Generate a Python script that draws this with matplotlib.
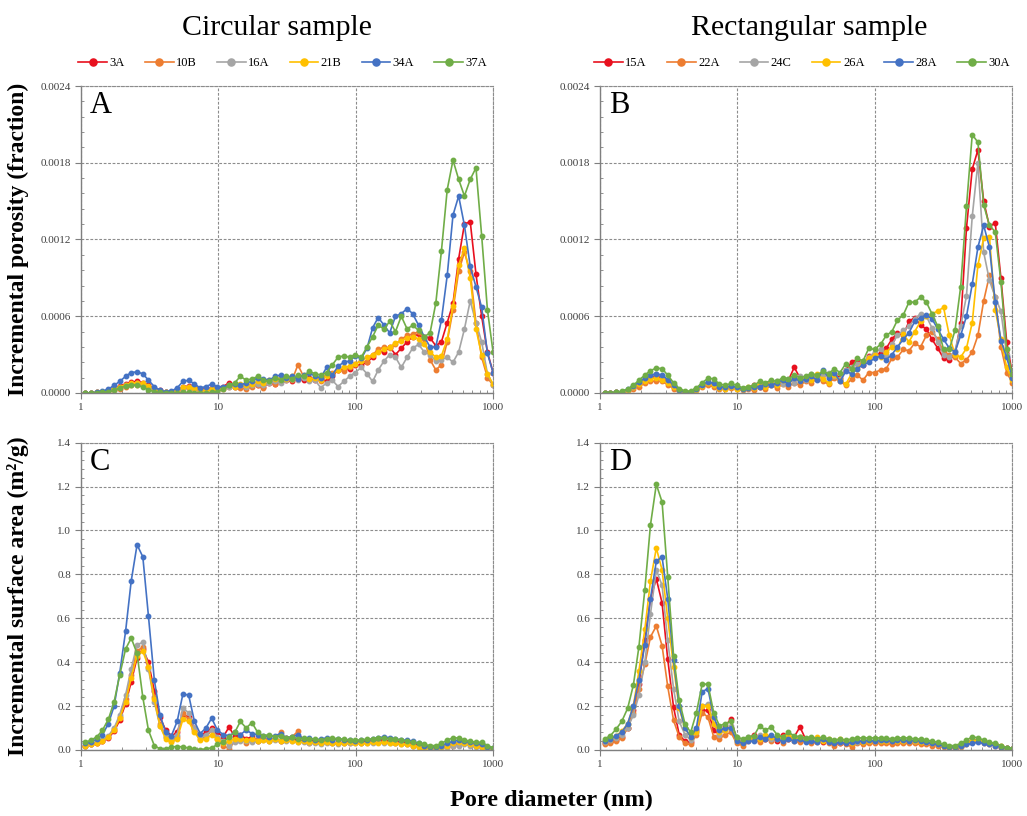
import numpy as np
import matplotlib
matplotlib.use("Agg")
import matplotlib.pyplot as plt
from matplotlib.ticker import MultipleLocator, FormatStrFormatter, LogLocator, NullFormatter, FixedLocator

plt.rcParams['font.family'] = ['Liberation Serif', 'DejaVu Serif']

# pore diameter grid (nm), shared by every series
x_nm = [1.08, 1.19, 1.31, 1.44, 1.59, 1.75, 1.92, 2.12, 2.33, 2.57, 2.83, 3.11,
        3.43, 3.77, 4.15, 4.57, 5.03, 5.54, 6.10, 6.72, 7.40, 8.14, 8.97, 9.87,
        10.9, 12.0, 13.2, 14.5, 16.0, 17.6, 19.4, 21.3, 23.5, 25.9, 28.5, 31.3,
        34.5, 38.0, 41.8, 46.1, 50.7, 55.8, 61.5, 67.7, 74.5, 82.0, 90.3, 99.5,
        110, 121, 133, 146, 161, 177, 195, 215, 237, 260, 287, 316,
        348, 383, 421, 464, 511, 562, 619, 682, 751, 826, 910, 1000]

circ_labels = ['3A', '10B', '16A', '21B', '34A', '37A']
rect_labels = ['15A', '22A', '24C', '26A', '28A', '30A']
colors = ['#E8101E', '#ED7D31', '#A5A5A5', '#FFC000', '#4472C4', '#70AD47']

# incremental porosity, in units of 1e-4 (fraction)
por_3A = [0.0, 0.0, 0.05, 0.1, 0.2, 0.35, 0.55, 0.7, 0.85, 0.9, 0.8, 0.6,
          0.35, 0.2, 0.1, 0.1, 0.2, 0.45, 0.55, 0.45, 0.3, 0.3, 0.4, 0.3,
          0.5, 0.8, 0.5, 0.6, 0.5, 0.7, 0.6, 0.5, 0.8, 0.7, 0.9, 1.0,
          0.9, 1.1, 1.0, 1.2, 1.0, 1.1, 0.9, 1.3, 1.8, 1.9, 1.9, 2.2,
          2.2, 2.4, 2.8, 3.3, 3.2, 3.6, 3.0, 3.5, 4.0, 4.4, 4.6, 4.4,
          4.3, 3.7, 4.0, 5.5, 7.0, 10.5, 13.2, 13.4, 9.3, 6.0, 3.2, 1.6]
por_10B = [0.0, 0.0, 0.0, 0.05, 0.1, 0.2, 0.35, 0.5, 0.6, 0.65, 0.6, 0.45,
           0.25, 0.1, 0.05, 0.05, 0.15, 0.3, 0.4, 0.35, 0.2, 0.15, 0.3, 0.2,
           0.3, 0.5, 0.6, 0.4, 0.3, 0.5, 0.6, 0.4, 0.9, 0.7, 1.0, 1.2,
           1.0, 2.2, 1.3, 1.0, 1.2, 0.9, 1.5, 1.6, 1.8, 1.7, 2.0, 2.3,
           2.5, 2.4, 3.0, 3.4, 3.6, 3.5, 3.8, 4.2, 4.5, 4.6, 4.8, 4.2,
           2.6, 1.8, 2.2, 4.0, 6.5, 9.5, 11.0, 9.5, 5.5, 2.8, 1.2, 0.6]
por_16A = [0.0, 0.0, 0.05, 0.1, 0.2, 0.3, 0.45, 0.6, 0.7, 0.75, 0.7, 0.5,
           0.3, 0.15, 0.1, 0.1, 0.2, 0.4, 0.5, 0.4, 0.25, 0.2, 0.35, 0.25,
           0.4, 0.5, 0.5, 0.6, 0.5, 0.6, 0.7, 0.6, 0.8, 0.9, 0.8, 1.0,
           1.1, 1.0, 1.2, 0.9, 1.0, 0.4, 0.8, 1.0, 0.5, 0.9, 1.3, 1.6,
           2.0, 1.5, 0.9, 1.8, 2.5, 3.0, 2.8, 2.0, 2.8, 3.5, 3.8, 3.2,
           3.0, 2.5, 2.6, 2.8, 2.4, 3.2, 5.0, 7.2, 5.5, 4.0, 1.5, 0.6]
por_21B = [0.0, 0.0, 0.05, 0.1, 0.2, 0.35, 0.5, 0.65, 0.75, 0.8, 0.75, 0.55,
           0.3, 0.15, 0.1, 0.1, 0.25, 0.45, 0.5, 0.4, 0.25, 0.2, 0.3, 0.25,
           0.4, 0.6, 0.5, 0.7, 0.6, 0.7, 0.9, 0.8, 1.0, 1.1, 1.2, 1.1,
           1.3, 1.2, 1.4, 1.1, 1.2, 1.0, 1.3, 1.5, 1.8, 2.0, 2.1, 2.3,
           2.5, 2.8, 3.0, 3.2, 3.4, 3.6, 3.9, 4.1, 4.3, 4.4, 4.2, 3.8,
           3.2, 2.8, 2.9, 4.2, 6.8, 10.0, 11.3, 9.0, 5.0, 3.0, 1.5, 0.7]
por_34A = [0.0, 0.0, 0.05, 0.15, 0.3, 0.6, 0.9, 1.3, 1.6, 1.65, 1.5, 1.0,
           0.5, 0.2, 0.1, 0.15, 0.4, 0.9, 1.0, 0.7, 0.4, 0.5, 0.7, 0.5,
           0.5, 0.6, 0.7, 0.6, 0.8, 0.9, 1.2, 1.1, 1.0, 1.3, 1.4, 1.2,
           1.3, 1.1, 1.4, 1.6, 1.3, 1.2, 2.0, 1.4, 2.1, 2.4, 2.5, 2.9,
           2.7, 3.5, 5.1, 5.9, 5.3, 4.7, 6.0, 6.2, 6.6, 6.2, 5.3, 4.4,
           3.6, 3.6, 5.7, 9.2, 13.9, 15.4, 13.1, 9.9, 8.3, 6.7, 3.1, 1.6]
por_37A = [0.0, 0.0, 0.0, 0.05, 0.1, 0.2, 0.4, 0.55, 0.65, 0.6, 0.45, 0.25,
           0.1, 0.05, 0.0, 0.0, 0.0, 0.05, 0.05, 0.0, 0.0, 0.0, 0.05, 0.1,
           0.3, 0.6, 0.8, 1.3, 1.0, 1.1, 1.3, 1.0, 0.9, 1.2, 1.0, 1.3,
           1.1, 1.4, 1.3, 1.7, 1.5, 1.4, 1.6, 2.2, 2.8, 2.9, 2.8, 3.0,
           2.8, 3.6, 4.4, 5.3, 5.0, 5.6, 4.8, 6.0, 5.0, 5.3, 4.9, 4.4,
           4.7, 7.0, 11.1, 15.9, 18.2, 16.7, 15.4, 16.7, 17.6, 12.3, 6.5, 3.2]

por_15A = [0.0, 0.0, 0.05, 0.1, 0.25, 0.5, 0.8, 1.1, 1.25, 1.3, 1.2, 0.9,
           0.5, 0.2, 0.1, 0.1, 0.3, 0.6, 0.8, 0.7, 0.5, 0.4, 0.5, 0.4,
           0.3, 0.4, 0.6, 0.5, 0.7, 0.8, 0.6, 0.9, 1.0, 2.0, 1.2, 1.0,
           1.4, 1.2, 1.6, 1.3, 1.5, 1.2, 1.8, 2.4, 2.6, 2.2, 2.9, 3.0,
           3.1, 3.5, 4.2, 4.7, 4.5, 5.6, 5.9, 5.3, 5.0, 4.2, 3.5, 2.7,
           2.6, 3.0, 5.5, 12.9, 17.5, 19.0, 15.0, 13.0, 13.3, 9.0, 4.0, 1.5]
por_22A = [0.0, 0.0, 0.0, 0.05, 0.15, 0.3, 0.5, 0.75, 0.9, 0.95, 0.9, 0.65,
           0.35, 0.15, 0.05, 0.05, 0.2, 0.45, 0.6, 0.5, 0.35, 0.3, 0.4, 0.3,
           0.2, 0.3, 0.2, 0.5, 0.3, 0.6, 0.4, 0.7, 0.5, 0.8, 0.6, 0.9,
           0.8, 1.1, 0.9, 0.7, 1.2, 0.9, 0.6, 1.1, 1.4, 1.0, 1.6, 1.6,
           1.8, 1.9, 2.7, 2.8, 3.4, 3.3, 3.9, 3.6, 4.5, 4.8, 4.2, 3.2,
           3.0, 2.8, 2.3, 2.6, 3.2, 4.5, 7.2, 9.2, 7.5, 3.6, 1.6, 0.8]
por_24C = [0.0, 0.0, 0.05, 0.1, 0.25, 0.5, 0.8, 1.1, 1.35, 1.45, 1.35, 1.0,
           0.55, 0.25, 0.1, 0.1, 0.3, 0.65, 0.9, 0.75, 0.5, 0.45, 0.55, 0.45,
           0.3, 0.4, 0.5, 0.6, 0.7, 0.6, 0.9, 0.7, 1.1, 0.8, 1.3, 1.0,
           1.5, 1.2, 1.4, 1.6, 1.3, 1.1, 1.8, 2.0, 2.3, 2.5, 2.8, 3.2,
           3.4, 3.0, 3.8, 4.5, 4.9, 5.2, 5.8, 6.2, 6.0, 5.1, 4.0, 3.0,
           2.8, 3.3, 5.2, 7.6, 13.8, 18.0, 11.0, 8.8, 7.5, 6.4, 3.0, 1.2]
por_26A = [0.0, 0.0, 0.05, 0.1, 0.2, 0.45, 0.7, 0.95, 1.1, 1.15, 1.05, 0.8,
           0.45, 0.2, 0.1, 0.1, 0.25, 0.55, 0.75, 0.6, 0.4, 0.35, 0.45, 0.35,
           0.3, 0.5, 0.4, 0.7, 0.5, 0.8, 0.6, 1.0, 0.8, 1.3, 0.9, 1.2,
           1.0, 1.5, 1.1, 0.8, 1.4, 1.0, 0.7, 1.5, 1.9, 2.4, 2.7, 3.0,
           2.8, 3.2, 3.6, 3.4, 4.6, 4.0, 4.8, 5.6, 6.0, 6.2, 6.4, 6.7,
           4.5, 3.0, 2.8, 3.5, 5.5, 10.0, 12.1, 12.2, 6.5, 4.2, 2.0, 1.0]
por_28A = [0.0, 0.0, 0.05, 0.1, 0.3, 0.55, 0.85, 1.15, 1.4, 1.5, 1.4, 1.05,
           0.6, 0.25, 0.1, 0.1, 0.3, 0.65, 0.85, 0.75, 0.5, 0.45, 0.55, 0.45,
           0.3, 0.4, 0.5, 0.5, 0.7, 0.6, 0.8, 1.0, 0.7, 1.2, 0.9, 1.1,
           1.3, 1.0, 1.8, 1.2, 1.6, 0.9, 1.7, 1.5, 1.9, 2.2, 2.4, 2.7,
           2.9, 2.6, 3.0, 3.6, 4.2, 4.7, 5.6, 5.9, 6.1, 5.8, 5.0, 4.2,
           3.5, 3.2, 4.5, 6.0, 8.5, 11.4, 13.1, 11.4, 7.1, 4.1, 2.8, 1.2]
por_30A = [0.0, 0.0, 0.05, 0.15, 0.3, 0.6, 1.0, 1.4, 1.75, 1.95, 1.9, 1.4,
           0.8, 0.35, 0.15, 0.15, 0.4, 0.8, 1.15, 1.1, 0.7, 0.6, 0.75, 0.6,
           0.4, 0.5, 0.6, 0.9, 0.8, 1.0, 0.9, 1.2, 1.1, 1.4, 1.2, 1.3,
           1.5, 1.4, 1.7, 1.5, 1.9, 1.6, 2.3, 1.9, 2.7, 2.5, 3.5, 3.4,
           3.8, 4.5, 4.8, 5.7, 6.1, 7.1, 7.1, 7.5, 7.1, 6.2, 5.2, 3.4,
           3.4, 4.9, 8.3, 14.6, 20.2, 19.6, 14.7, 13.1, 12.6, 8.7, 3.4, 1.5]

# incremental surface area (m2/g)
sa_3A = [0.02, 0.025, 0.03, 0.04, 0.055, 0.085, 0.135, 0.21, 0.31, 0.42, 0.46, 0.40,
         0.27, 0.15, 0.09, 0.065, 0.08, 0.16, 0.15, 0.1, 0.065, 0.08, 0.1, 0.08,
         0.06, 0.105, 0.06, 0.07, 0.05, 0.06, 0.04, 0.05, 0.045, 0.05, 0.04, 0.055,
         0.05, 0.045, 0.04, 0.045, 0.04, 0.035, 0.04, 0.035, 0.03, 0.035, 0.04, 0.035,
         0.035, 0.04, 0.04, 0.045, 0.045, 0.04, 0.04, 0.035, 0.035, 0.03, 0.025, 0.02,
         0.015, 0.01, 0.015, 0.02, 0.025, 0.03, 0.03, 0.025, 0.02, 0.015, 0.01, 0.005]
sa_10B = [0.02, 0.025, 0.03, 0.04, 0.06, 0.095, 0.15, 0.23, 0.34, 0.45, 0.47, 0.38,
          0.24, 0.12, 0.06, 0.04, 0.06, 0.17, 0.14, 0.09, 0.05, 0.06, 0.09, 0.05,
          0.02, 0.005, 0.04, 0.06, 0.03, 0.045, 0.05, 0.06, 0.04, 0.05, 0.08, 0.045,
          0.06, 0.085, 0.04, 0.03, 0.035, 0.03, 0.04, 0.03, 0.035, 0.03, 0.03, 0.035,
          0.03, 0.035, 0.04, 0.035, 0.04, 0.035, 0.03, 0.03, 0.025, 0.02, 0.02, 0.015,
          0.01, 0.005, 0.01, 0.015, 0.02, 0.03, 0.035, 0.03, 0.02, 0.015, 0.01, 0.005]
sa_16A = [0.02, 0.025, 0.035, 0.045, 0.065, 0.1, 0.16, 0.25, 0.37, 0.48, 0.49, 0.37,
          0.22, 0.11, 0.06, 0.045, 0.07, 0.19, 0.17, 0.1, 0.06, 0.07, 0.09, 0.06,
          0.04, 0.02, 0.035, 0.04, 0.04, 0.035, 0.04, 0.045, 0.04, 0.045, 0.04, 0.04,
          0.04, 0.035, 0.035, 0.03, 0.03, 0.025, 0.03, 0.03, 0.025, 0.03, 0.03, 0.03,
          0.03, 0.03, 0.03, 0.035, 0.03, 0.03, 0.03, 0.025, 0.025, 0.02, 0.015, 0.01,
          0.01, 0.008, 0.01, 0.015, 0.02, 0.02, 0.025, 0.02, 0.015, 0.01, 0.01, 0.005]
sa_21B = [0.02, 0.025, 0.03, 0.04, 0.06, 0.09, 0.145, 0.22, 0.33, 0.43, 0.45, 0.38,
          0.23, 0.11, 0.05, 0.035, 0.05, 0.14, 0.13, 0.08, 0.045, 0.05, 0.07, 0.05,
          0.03, 0.04, 0.05, 0.05, 0.045, 0.05, 0.04, 0.045, 0.04, 0.05, 0.04, 0.045,
          0.04, 0.035, 0.04, 0.035, 0.035, 0.03, 0.035, 0.03, 0.03, 0.03, 0.035, 0.03,
          0.03, 0.03, 0.035, 0.03, 0.035, 0.03, 0.03, 0.025, 0.025, 0.02, 0.015, 0.01,
          0.008, 0.01, 0.015, 0.02, 0.03, 0.035, 0.03, 0.025, 0.02, 0.015, 0.01, 0.005]
sa_34A = [0.03, 0.035, 0.05, 0.07, 0.12, 0.2, 0.35, 0.54, 0.77, 0.935, 0.88, 0.61,
          0.32, 0.16, 0.08, 0.065, 0.13, 0.255, 0.25, 0.13, 0.075, 0.1, 0.145, 0.09,
          0.07, 0.065, 0.08, 0.07, 0.09, 0.075, 0.07, 0.065, 0.06, 0.065, 0.075, 0.055,
          0.06, 0.07, 0.05, 0.055, 0.045, 0.05, 0.055, 0.045, 0.05, 0.045, 0.045, 0.04,
          0.045, 0.045, 0.05, 0.055, 0.06, 0.055, 0.05, 0.045, 0.045, 0.04, 0.03, 0.02,
          0.015, 0.015, 0.02, 0.03, 0.04, 0.045, 0.04, 0.035, 0.03, 0.025, 0.015, 0.01]
sa_37A = [0.035, 0.045, 0.06, 0.09, 0.14, 0.22, 0.34, 0.46, 0.51, 0.44, 0.24, 0.09,
          0.02, 0.005, 0.003, 0.015, 0.015, 0.015, 0.008, 0.003, 0.002, 0.005, 0.01, 0.025,
          0.035, 0.06, 0.08, 0.13, 0.1, 0.125, 0.08, 0.065, 0.07, 0.06, 0.065, 0.055,
          0.06, 0.05, 0.055, 0.05, 0.05, 0.045, 0.05, 0.055, 0.05, 0.05, 0.045, 0.045,
          0.045, 0.05, 0.05, 0.055, 0.055, 0.05, 0.05, 0.045, 0.04, 0.035, 0.03, 0.025,
          0.02, 0.02, 0.03, 0.045, 0.055, 0.055, 0.045, 0.04, 0.035, 0.035, 0.02, 0.01]

sa_15A = [0.03, 0.035, 0.045, 0.06, 0.1, 0.18, 0.3, 0.5, 0.69, 0.78, 0.67, 0.415,
          0.195, 0.07, 0.04, 0.035, 0.09, 0.18, 0.18, 0.09, 0.07, 0.11, 0.14, 0.05,
          0.03, 0.05, 0.07, 0.06, 0.05, 0.06, 0.04, 0.07, 0.05, 0.06, 0.105, 0.05,
          0.04, 0.045, 0.035, 0.04, 0.035, 0.03, 0.035, 0.03, 0.045, 0.035, 0.04, 0.035,
          0.04, 0.04, 0.04, 0.045, 0.04, 0.04, 0.04, 0.035, 0.035, 0.03, 0.025, 0.02,
          0.015, 0.012, 0.02, 0.03, 0.045, 0.045, 0.035, 0.03, 0.025, 0.015, 0.008, 0.004]
sa_22A = [0.025, 0.03, 0.04, 0.055, 0.1, 0.17, 0.28, 0.39, 0.515, 0.565, 0.475, 0.29,
          0.135, 0.06, 0.03, 0.025, 0.07, 0.17, 0.15, 0.06, 0.05, 0.07, 0.08, 0.03,
          0.02, 0.04, 0.05, 0.035, 0.05, 0.04, 0.06, 0.03, 0.05, 0.04, 0.035, 0.04,
          0.03, 0.035, 0.045, 0.03, 0.02, 0.03, 0.025, 0.015, 0.03, 0.025, 0.03, 0.03,
          0.03, 0.03, 0.025, 0.03, 0.03, 0.03, 0.03, 0.025, 0.025, 0.02, 0.02, 0.015,
          0.01, 0.01, 0.015, 0.025, 0.035, 0.04, 0.03, 0.025, 0.02, 0.015, 0.008, 0.004]
sa_24C = [0.035, 0.045, 0.055, 0.07, 0.1, 0.16, 0.25, 0.4, 0.62, 0.82, 0.75, 0.5,
          0.28, 0.13, 0.07, 0.045, 0.08, 0.2, 0.21, 0.12, 0.07, 0.09, 0.11, 0.05,
          0.04, 0.06, 0.05, 0.07, 0.06, 0.05, 0.06, 0.05, 0.07, 0.05, 0.06, 0.045,
          0.05, 0.04, 0.045, 0.04, 0.04, 0.035, 0.04, 0.04, 0.035, 0.04, 0.045, 0.04,
          0.045, 0.045, 0.045, 0.045, 0.045, 0.045, 0.04, 0.04, 0.035, 0.03, 0.025, 0.02,
          0.015, 0.015, 0.02, 0.03, 0.04, 0.045, 0.04, 0.03, 0.025, 0.02, 0.01, 0.005]
sa_26A = [0.04, 0.05, 0.065, 0.085, 0.12, 0.2, 0.36, 0.55, 0.77, 0.92, 0.82, 0.6,
          0.38, 0.19, 0.1, 0.06, 0.08, 0.2, 0.2, 0.12, 0.08, 0.09, 0.1, 0.04,
          0.03, 0.05, 0.06, 0.05, 0.07, 0.06, 0.05, 0.06, 0.07, 0.05, 0.06, 0.05,
          0.05, 0.06, 0.04, 0.05, 0.04, 0.05, 0.04, 0.03, 0.04, 0.035, 0.04, 0.04,
          0.04, 0.04, 0.045, 0.04, 0.04, 0.04, 0.04, 0.035, 0.035, 0.03, 0.025, 0.02,
          0.015, 0.015, 0.02, 0.03, 0.04, 0.045, 0.04, 0.03, 0.025, 0.02, 0.01, 0.005]
sa_28A = [0.04, 0.05, 0.065, 0.08, 0.12, 0.2, 0.32, 0.48, 0.69, 0.86, 0.88, 0.69,
          0.41, 0.2, 0.1, 0.06, 0.1, 0.265, 0.28, 0.15, 0.09, 0.1, 0.1, 0.04,
          0.03, 0.04, 0.04, 0.06, 0.05, 0.07, 0.05, 0.04, 0.05, 0.04, 0.05, 0.035,
          0.04, 0.035, 0.05, 0.035, 0.03, 0.035, 0.03, 0.035, 0.04, 0.04, 0.045, 0.04,
          0.045, 0.045, 0.04, 0.045, 0.045, 0.04, 0.045, 0.04, 0.035, 0.03, 0.025, 0.02,
          0.015, 0.015, 0.02, 0.025, 0.03, 0.035, 0.03, 0.025, 0.02, 0.015, 0.01, 0.005]
sa_30A = [0.05, 0.065, 0.095, 0.13, 0.19, 0.296, 0.47, 0.73, 1.025, 1.21, 1.13, 0.79,
          0.43, 0.227, 0.12, 0.08, 0.17, 0.3, 0.3, 0.17, 0.11, 0.12, 0.13, 0.06,
          0.05, 0.06, 0.065, 0.11, 0.09, 0.105, 0.07, 0.06, 0.08, 0.065, 0.06, 0.055,
          0.06, 0.05, 0.06, 0.05, 0.045, 0.05, 0.045, 0.05, 0.055, 0.055, 0.055, 0.055,
          0.055, 0.055, 0.05, 0.055, 0.055, 0.055, 0.05, 0.05, 0.045, 0.04, 0.035, 0.025,
          0.02, 0.02, 0.03, 0.045, 0.06, 0.055, 0.045, 0.035, 0.03, 0.02, 0.01, 0.005]

GRID = '#8c8c8c'
TICKCOL = '#404040'


def style_axes(ax, ymax, ystep, yfmt, letter):
    ax.set_xscale('log')
    ax.set_xlim(1, 1000)
    ax.set_ylim(0, ymax)
    ax.xaxis.set_major_locator(FixedLocator([1, 10, 100, 1000]))
    ax.xaxis.set_major_formatter(FormatStrFormatter('%g'))
    ax.xaxis.set_minor_locator(LogLocator(base=10, subs=np.arange(2, 10)))
    ax.xaxis.set_minor_formatter(NullFormatter())
    ax.yaxis.set_major_locator(MultipleLocator(ystep))
    ax.yaxis.set_minor_locator(MultipleLocator(ystep / 5))
    ax.yaxis.set_major_formatter(FormatStrFormatter(yfmt))
    ax.grid(True, which='major', color=GRID, ls=(0, (2.5, 1.5)), lw=0.8)
    for side in ['left', 'bottom']:
        ax.spines[side].set_color('#7f7f7f')
        ax.spines[side].set_linewidth(1.0)
    for side in ['top', 'right']:
        ax.spines[side].set_color(GRID)
        ax.spines[side].set_linestyle((0, (2.5, 1.5)))
        ax.spines[side].set_linewidth(0.8)
    ax.tick_params(which='major', direction='out', length=4, color='#7f7f7f',
                   labelsize=8, labelcolor=TICKCOL, pad=3)
    ax.tick_params(which='minor', direction='in', length=2.5, color='#7f7f7f')
    ax.text(0.022, 0.912, letter, transform=ax.transAxes, fontsize=22,
            va='baseline', ha='left')


def draw_panel(ax, series, labels, scale):
    for ys, lab, c in zip(series, labels, colors):
        ax.plot(x_nm, np.array(ys) * scale, '-o', color=c, lw=1.2, ms=3.2,
                mec=c, label=lab)


fig = plt.figure(figsize=(10.27, 8.16), dpi=100)
axA = fig.add_axes([0.0786, 0.5184, 0.4015, 0.3762])
axB = fig.add_axes([0.5842, 0.5184, 0.4015, 0.3762])
axC = fig.add_axes([0.0786, 0.0809, 0.4015, 0.3766])
axD = fig.add_axes([0.5842, 0.0809, 0.4015, 0.3766])

draw_panel(axA, [por_3A, por_10B, por_16A, por_21B, por_34A, por_37A], circ_labels, 1e-4)
draw_panel(axB, [por_15A, por_22A, por_24C, por_26A, por_28A, por_30A], rect_labels, 1e-4)
draw_panel(axC, [sa_3A, sa_10B, sa_16A, sa_21B, sa_34A, sa_37A], circ_labels, 1)
draw_panel(axD, [sa_15A, sa_22A, sa_24C, sa_26A, sa_28A, sa_30A], rect_labels, 1)

style_axes(axA, 0.0024, 0.0006, '%.4f', 'A')
style_axes(axB, 0.0024, 0.0006, '%.4f', 'B')
style_axes(axC, 1.4, 0.2, '%.1f', 'C')
style_axes(axD, 1.4, 0.2, '%.1f', 'D')

for ax in [axA, axB]:
    ax.legend(loc='center', bbox_to_anchor=(0.49, 1.075), ncol=6, frameon=False,
              fontsize=9, handlelength=2.3, handletextpad=0.2, columnspacing=1.6,
              markerscale=1.6, borderaxespad=0)

fig.text(0.27, 1 - 35 / 816, 'Circular sample', fontsize=21.5, ha='center', va='baseline')
fig.text(0.788, 1 - 35 / 816, 'Rectangular sample', fontsize=21.5, ha='center', va='baseline')
fig.text(0.018, 0.7065, 'Incremental porosity (fraction)', fontsize=17,
         fontweight='bold', rotation=90, ha='center', va='center')
fig.text(0.018, 0.2696, 'Incremental surface area (m\u00b2/g)', fontsize=17,
         fontweight='bold', rotation=90, ha='center', va='center')
fig.text(0.537, 0.012, 'Pore diameter (nm)', fontsize=17.5, fontweight='bold',
         ha='center', va='baseline')

fig.savefig('out.png', dpi=100)
